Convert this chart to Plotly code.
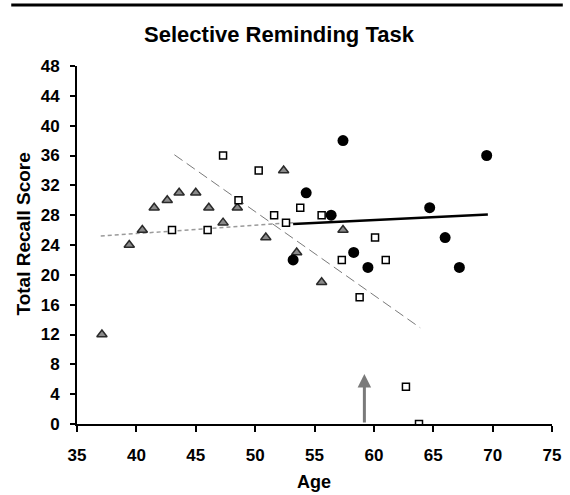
import plotly.graph_objects as go

# ---- data ----
tri_age = [37.1, 39.4, 40.5, 41.5, 42.6, 43.6, 45.0, 46.1, 47.3, 48.5, 50.9, 52.4, 53.5, 55.6, 57.4]
tri_score = [12, 24, 26, 29, 30, 31, 31, 29, 27, 29, 25, 34, 23, 19, 26]

sq_age = [43.0, 46.0, 47.3, 48.6, 50.3, 51.6, 52.6, 53.8, 55.6, 57.3, 58.8, 60.1, 61.0, 62.7, 63.8]
sq_score = [26, 26, 36, 30, 34, 28, 27, 29, 28, 22, 17, 25, 22, 5, 0]

circ_age = [53.2, 54.3, 56.4, 57.4, 58.3, 59.5, 64.7, 66.0, 67.2, 69.5]
circ_score = [22, 31, 28, 38, 23, 21, 29, 25, 21, 36]

steep_fit_age = [43.2, 63.9]
steep_fit_score = [36.1, 12.9]

flat_fit_age = [37.0, 53.2]
flat_fit_score = [25.2, 27.0]

solid_fit_age = [53.2, 69.6]
solid_fit_score = [26.8, 28.1]

arrow_age = 59.2
arrow_top = 6.7

x_ticks = [35, 40, 45, 50, 55, 60, 65, 70, 75]
y_ticks = [0, 4, 8, 12, 16, 20, 24, 28, 32, 36, 40, 44, 48]

FONT = "Liberation Sans, Arial, Helvetica, sans-serif"

fig = go.Figure()

fig.add_trace(go.Scatter(x=flat_fit_age, y=flat_fit_score, mode="lines",
                         line=dict(color="#9a9a9a", width=1.5, dash="4px,3px"),
                         hoverinfo="skip"))
fig.add_trace(go.Scatter(x=steep_fit_age, y=steep_fit_score, mode="lines",
                         line=dict(color="#7a7a7a", width=1, dash="10px,5px"),
                         hoverinfo="skip"))
fig.add_trace(go.Scatter(x=solid_fit_age, y=solid_fit_score, mode="lines",
                         line=dict(color="black", width=2.5),
                         hoverinfo="skip"))

fig.add_trace(go.Scatter(x=tri_age, y=tri_score, mode="markers",
                         marker=dict(symbol="triangle-up", size=9, color="#8a8a8a",
                                     line=dict(color="#2a2a2a", width=1.5))))
fig.add_trace(go.Scatter(x=sq_age, y=sq_score, mode="markers",
                         marker=dict(symbol="square", size=7, color="white",
                                     line=dict(color="black", width=1.5))))
fig.add_trace(go.Scatter(x=circ_age, y=circ_score, mode="markers",
                         marker=dict(symbol="circle", size=11, color="black",
                                     line=dict(width=0))))

# arrow
fig.add_annotation(x=arrow_age, y=arrow_top, ax=arrow_age, ay=0,
                   xref="x", yref="y", axref="x", ayref="y",
                   text="", showarrow=True, arrowhead=2, arrowsize=0.9,
                   arrowwidth=3, arrowcolor="#7a7a7a")

L, R, T, B = 77, 9, 66, 71
W, H = 570, 495
pw = W - L - R
ph = H - T - B

def px_x(p):
    return (p - L) / pw

def px_y(p):
    return (H - B - p) / ph

# top border line
fig.add_shape(type="line", xref="paper", yref="paper",
              x0=px_x(10), x1=px_x(572), y0=px_y(5), y1=px_y(5),
              line=dict(color="black", width=3))

# axis titles as annotations
fig.add_annotation(text="<b>Total Recall Score</b>", xref="paper", yref="paper",
                   x=px_x(22.5), y=px_y(234), textangle=-90, showarrow=False,
                   xanchor="center", yanchor="middle",
                   font=dict(family=FONT, size=19, color="black"))
fig.add_annotation(text="<b>Age</b>", xref="paper", yref="paper",
                   x=px_x(318), y=px_y(482), showarrow=False,
                   xanchor="center", yanchor="middle",
                   font=dict(family=FONT, size=18, color="black"))

fig.update_layout(
    width=W, height=H,
    margin=dict(l=L, r=R, t=T, b=B, pad=0),
    paper_bgcolor="white", plot_bgcolor="white",
    showlegend=False,
    title=dict(text="<b>Selective Reminding Task</b>", x=279 / W, xanchor="center",
               y=1 - 34 / H, yanchor="middle",
               font=dict(family=FONT, size=22, color="black")),
    font=dict(family=FONT, color="black"),
)

fig.update_xaxes(range=[35, 75], tickvals=x_ticks, ticktext=[str(v) for v in x_ticks],
                 showgrid=False, zeroline=False, showline=True, linecolor="black",
                 linewidth=2, ticks="outside", ticklen=6, tickwidth=2, tickcolor="black",
                 tickfont=dict(family=FONT, size=17, color="black", weight="bold"),
                 ticklabelstandoff=9, ticklabeloverflow="allow")
fig.update_yaxes(range=[0, 48], tickvals=y_ticks, ticktext=[str(v) for v in y_ticks],
                 showgrid=False, zeroline=False, showline=True, linecolor="black",
                 linewidth=2, ticks="outside", ticklen=5, tickwidth=2, tickcolor="black",
                 tickfont=dict(family=FONT, size=17, color="black", weight="bold"),
                 ticklabelstandoff=7)

fig.write_html("out.html", config={"displayModeBar": False},
               post_script="document.body.style.margin='0';document.body.style.overflow='hidden';")
